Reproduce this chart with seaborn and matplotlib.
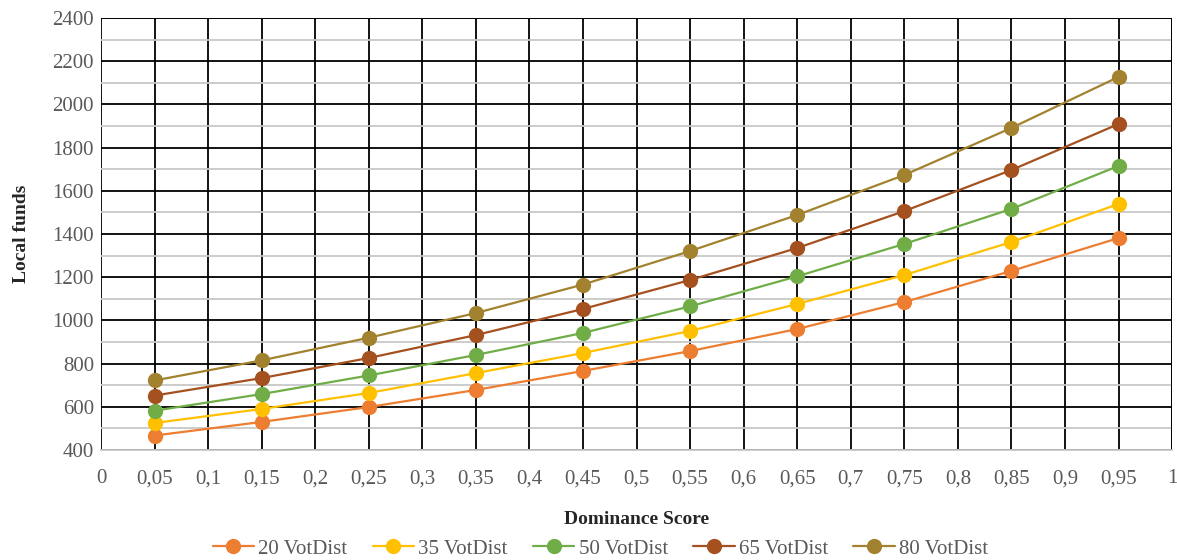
import pandas as pd
import matplotlib
matplotlib.use("Agg")
import matplotlib.pyplot as plt
import seaborn as sns
from matplotlib.ticker import MultipleLocator, FuncFormatter

# dominance score points
dominance = [0.05, 0.15, 0.25, 0.35, 0.45, 0.55, 0.65, 0.75, 0.85, 0.95]

# local funds per voting-district size
votdist_20 = [467, 530, 599, 678, 766, 858, 960, 1085, 1229, 1381]
votdist_35 = [525, 590, 664, 756, 849, 951, 1076, 1210, 1363, 1539]
votdist_50 = [582, 659, 745, 840, 942, 1065, 1204, 1354, 1516, 1715]
votdist_65 = [652, 733, 826, 932, 1053, 1187, 1335, 1506, 1696, 1909]
votdist_80 = [722, 815, 920, 1034, 1166, 1321, 1488, 1673, 1891, 2127]

series_names = ["20 VotDist", "35 VotDist", "50 VotDist", "65 VotDist", "80 VotDist"]
series_values = [votdist_20, votdist_35, votdist_50, votdist_65, votdist_80]
colors = ["#ED7D31", "#FFC000", "#70AD47", "#A5501F", "#A2822E"]

rows = []
for name, vals in zip(series_names, series_values):
    for x, y in zip(dominance, vals):
        rows.append((x, y, name))
df = pd.DataFrame(rows, columns=["Dominance Score", "Local funds", "Series"])

sns.set_style("white")
plt.rcParams["font.family"] = ["Liberation Serif", "DejaVu Serif"]

fig = plt.figure(figsize=(11.77, 5.6), dpi=100)
ax = fig.add_axes([0.0858, 0.1964, 0.9100, 0.7715])

sns.lineplot(data=df, x="Dominance Score", y="Local funds", hue="Series",
             palette=colors, marker="o", markersize=11, markeredgewidth=0,
             linewidth=1.6, ax=ax, zorder=3)


def fmt_x(v, pos):
    if abs(v) < 1e-9:
        return "0"
    s = f"{v:.2f}".rstrip("0").rstrip(".")
    return s.replace(".", ",")


ax.set_xlim(0, 1)
ax.set_ylim(400, 2400)
ax.xaxis.set_major_locator(MultipleLocator(0.05))
ax.yaxis.set_major_locator(MultipleLocator(200))
ax.yaxis.set_minor_locator(MultipleLocator(100))
ax.xaxis.set_major_formatter(FuncFormatter(fmt_x))

# gridlines
ax.grid(which="major", axis="x", color="black", linewidth=1.3)
ax.grid(which="major", axis="y", color="black", linewidth=1.3)
ax.grid(which="minor", axis="y", color="#C8C8C8", linewidth=1.3)
ax.set_axisbelow(True)
for s in ["left", "top", "right"]:
    ax.spines[s].set_visible(False)
ax.spines["bottom"].set_color("#C8C8C8")
ax.spines["bottom"].set_linewidth(1.3)
ax.axhline(2400, color="black", linewidth=1.3, zorder=1)
ax.axvline(1, color="black", linewidth=1.3, zorder=1)

ax.tick_params(axis="both", which="both", length=0, labelsize=15, labelcolor="#595959")
ax.tick_params(axis="x", pad=14)
ax.tick_params(axis="y", pad=5)

ax.set_xlabel("Dominance Score", fontsize=14, fontweight="bold", labelpad=16)
ax.set_ylabel("Local funds", fontsize=14, fontweight="bold", labelpad=16)

handles, labels = ax.get_legend_handles_labels()
ax.get_legend().remove()
fig.legend(handles, labels, loc="center", bbox_to_anchor=(0.51, 0.02),
           ncol=5, frameon=False, fontsize=15, handlelength=2.0,
           handletextpad=0.2, columnspacing=1.2, labelcolor="#595959")

fig.savefig("out.png", dpi=100)
